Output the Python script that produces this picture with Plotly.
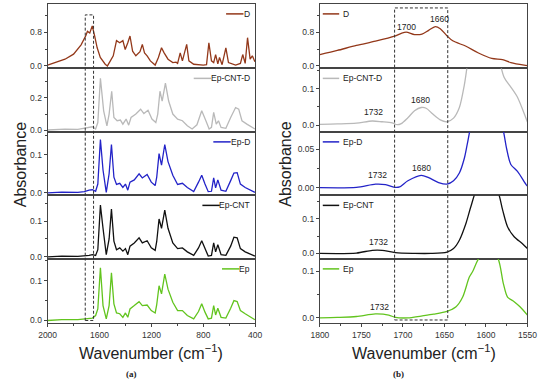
import plotly.graph_objects as go

# ---------------- data ----------------
SERIES_NAMES = ["D", "Ep-CNT-D", "Ep-D", "Ep-CNT", "Ep"]

# panel (a): 2000-400 cm-1
A_D_WN = [2000, 1940, 1866, 1800, 1742, 1705, 1693, 1675, 1656, 1638, 1618, 1594, 1556, 1539,
          1519, 1494, 1469, 1444, 1420, 1402, 1382, 1365, 1345, 1320, 1288, 1270, 1253, 1233,
          1208, 1171, 1146, 1122, 1102, 1072, 1035, 1010, 998, 978, 961, 928, 911, 874, 800,
          775, 757, 737, 720, 705, 688, 675, 655, 626, 606, 551, 514, 496, 477, 459, 439, 422, 402]
A_D_ABS = [0.02, 0.08, 0.16, 0.28, 0.5, 0.72, 0.82, 0.78, 0.95, 0.72, 0.43, 0.2, 0.04, 0.0,
           0.12, 0.24, 0.6, 0.55, 0.6, 0.39, 0.55, 0.71, 0.35, 0.24, 0.34, 0.51, 0.31, 0.24,
           0.12, 0.02, 0.2, 0.43, 0.31, 0.16, 0.08, 0.09, 0.06, 0.31, 0.12, 0.51, 0.12, 0.04, 0.02,
           0.03, 0.55, 0.12, 0.08, 0.27, 0.05, 0.2, 0.03, 0.43, 0.08, 0.02, 0.06, 0.27, 0.06, 0.67,
           0.16, 0.24, 0.1]

A_ECD_WN = [2000, 1866, 1767, 1680, 1655, 1630, 1613, 1593, 1568, 1543, 1526, 1506, 1489, 1464,
            1439, 1420, 1395, 1375, 1357, 1320, 1283, 1258, 1226, 1196, 1166, 1151, 1134, 1117,
            1092, 1067, 1035, 998, 961, 923, 886, 849, 812, 780, 755, 737, 720, 700, 683, 663,
            626, 589, 551, 527, 502, 464, 427, 402]
A_ECD_ABS = [0.002, 0.008, 0.006, 0.018, 0.022, 0.008, 0.048, 0.32, 0.12, 0.028, 0.1, 0.24,
             0.079, 0.059, 0.063, 0.038, 0.069, 0.032, 0.079, 0.1, 0.13, 0.103, 0.123, 0.069,
             0.048, 0.1, 0.24, 0.18, 0.29, 0.18, 0.1, 0.069, 0.059, 0.028, 0.008, 0.034, 0.12,
             0.059, 0.008, 0.018, 0.11, 0.038, 0.059, 0.018, 0.012, 0.079, 0.14, 0.13, 0.059,
             0.038, 0.018, 0.008]

A_WN = [2000, 1891, 1767, 1717, 1680, 1655, 1630, 1613, 1593, 1573, 1548, 1526, 1508, 1489,
        1469, 1444, 1420, 1400, 1382, 1365, 1332, 1295, 1270, 1233, 1201, 1171, 1159, 1141,
        1122, 1097, 1072, 1035, 998, 961, 923, 874, 837, 812, 787, 762, 737, 720, 705, 688,
        663, 626, 589, 564, 539, 514, 477, 427, 402]
A_ED_ABS = [0.0, 0.002, 0.001, 0.003, 0.007, 0.008, 0.004, 0.023, 0.14, 0.06, 0.001, 0.05,
            0.127, 0.041, 0.022, 0.025, 0.014, 0.023, 0.007, 0.028, 0.034, 0.05, 0.039, 0.048,
            0.028, 0.019, 0.041, 0.103, 0.073, 0.127, 0.082, 0.046, 0.022, 0.025, 0.014, 0.003,
            0.028, 0.046, 0.023, 0.003, 0.004, 0.039, 0.013, 0.034, 0.007, 0.004, 0.032, 0.052,
            0.053, 0.023, 0.014, 0.005, 0.001]
A_EC_ABS = [0.0, 0.002, 0.001, 0.002, 0.004, 0.006, 0.004, 0.02, 0.145, 0.08, 0.006, 0.05,
            0.134, 0.044, 0.02, 0.025, 0.016, 0.023, 0.006, 0.03, 0.039, 0.053, 0.039, 0.045,
            0.025, 0.018, 0.043, 0.106, 0.08, 0.131, 0.08, 0.039, 0.023, 0.025, 0.014, 0.004,
            0.025, 0.045, 0.023, 0.002, 0.004, 0.039, 0.014, 0.034, 0.006, 0.004, 0.03, 0.055,
            0.053, 0.023, 0.014, 0.005, 0.002]
A_E_ABS = [0.0, 0.002, 0.002, 0.004, 0.005, 0.006, 0.0125, 0.029, 0.133, 0.0375, 0.004, 0.0375,
           0.12, 0.042, 0.019, 0.017, 0.008, 0.019, 0.008, 0.029, 0.0375, 0.0475, 0.0375, 0.039,
           0.025, 0.019, 0.04, 0.0875, 0.067, 0.117, 0.079, 0.046, 0.025, 0.025, 0.0125, 0.004,
           0.0225, 0.042, 0.021, 0.004, 0.006, 0.0375, 0.014, 0.031, 0.008, 0.006, 0.031, 0.05,
           0.0475, 0.025, 0.017, 0.008, 0.002]

# panel (b): 1800-1550 cm-1
B_D_WN = [1800, 1779, 1756, 1733, 1710, 1702, 1696, 1686, 1677, 1669, 1661, 1655, 1647, 1640,
          1624, 1609, 1593, 1580, 1570, 1554, 1550]
B_D_ABS = [0.27, 0.37, 0.49, 0.59, 0.71, 0.78, 0.81, 0.75, 0.76, 0.85, 0.94, 0.89, 0.72, 0.6,
           0.47, 0.31, 0.18, 0.15, 0.08, 0.02, 0.01]
B_ECD_WN = [1800, 1779, 1756, 1737, 1725, 1713, 1707, 1702, 1694, 1686, 1678, 1672, 1664, 1655,
            1647, 1639, 1632, 1626, 1620, 1610, 1598, 1586, 1578, 1570, 1562, 1552, 1550]
B_ECD_ABS = [0.002, 0.003, 0.005, 0.011, 0.009, 0.006, 0.001, 0.004, 0.02, 0.039, 0.048, 0.046,
             0.03, 0.014, 0.009, 0.019, 0.048, 0.11, 0.2, 0.3, 0.32, 0.2, 0.13, 0.104, 0.076,
             0.02, 0.008]
B_ED_WN = [1800, 1756, 1733, 1721, 1709, 1704, 1694, 1678, 1669, 1657, 1647, 1639, 1632, 1626,
           1622, 1612, 1598, 1584, 1578, 1575, 1570, 1562, 1552, 1550]
B_ED_ABS = [0.0, 0.0004, 0.0046, 0.004, 0.0004, 0.001, 0.009, 0.016, 0.013, 0.0067, 0.0046,
            0.009, 0.019, 0.038, 0.059, 0.11, 0.14, 0.1, 0.068, 0.05, 0.03, 0.021, 0.0046, 0.002]
B_EC_WN = [1800, 1756, 1737, 1725, 1709, 1686, 1666, 1647, 1639, 1632, 1624, 1618, 1610, 1598,
           1586, 1580, 1574, 1566, 1556, 1550]
B_EC_ABS = [0.0, 0.001, 0.009, 0.009, 0.002, 0.0, 0.0, 0.004, 0.014, 0.038, 0.087, 0.136, 0.19,
            0.21, 0.18, 0.126, 0.077, 0.048, 0.028, 0.014]
B_E_WN = [1800, 1779, 1756, 1733, 1717, 1709, 1694, 1678, 1663, 1647, 1636, 1628, 1620, 1616,
          1608, 1597, 1586, 1579, 1574, 1566, 1559, 1550]
B_E_ABS = [0.0, 0.001, 0.003, 0.0085, 0.006, 0.001, 0.0, 0.004, 0.008, 0.014, 0.024, 0.045,
           0.088, 0.1, 0.13, 0.145, 0.13, 0.074, 0.045, 0.035, 0.024, 0.006]

# peak labels in panel (b)
PEAK_ROW = [0, 0, 1, 1, 2, 2, 3, 4]
PEAK_WN = [1696, 1656, 1736, 1679, 1731, 1678, 1729, 1728]
PEAK_TEXT = ["1700", "1660", "1732", "1680", "1732", "1680", "1732", "1732"]

# ticks
A_XTICKS = [2000, 1600, 1200, 800, 400]
B_XTICKS = [1800, 1750, 1700, 1650, 1600, 1550]
A_YTICKS = [[0.0, 0.8], [0.0, 0.2], [0.0, 0.1], [0.0, 0.1], [0.0, 0.1]]
B_YTICKS = [[0.0, 0.8], [0.0, 0.1], [0.0, 0.05], [0.0, 0.1], [0.0, 0.1]]
BOX_WN = [1710, 1646]

# ---------------- style ----------------
W, H = 550, 385
def fx(p):
    return p / W
def fy(p):
    return 1 - p / H

ROWS = [(4, 69), (69, 133), (133, 197), (197, 261), (261, 326)]
PANELS = [(40, 255), (322, 537)]
COLORS = ["#93381a", "#b9b9b9", "#2323c8", "#111111", "#62c41e"]
A_YR = [[-0.06, 1.47], [-0.01, 0.38], [-0.007, 0.16], [-0.006, 0.172], [-0.0075, 0.155]]
B_YR = [[-0.06, 1.48], [-0.019, 0.155], [-0.01, 0.072], [-0.016, 0.167], [-0.012, 0.127]]
FRAME = "#444444"
FONT = "Liberation Sans, Arial, sans-serif"

A_DATA = [(A_D_WN, A_D_ABS), (A_ECD_WN, A_ECD_ABS), (A_WN, A_ED_ABS), (A_WN, A_EC_ABS), (A_WN, A_E_ABS)]
B_DATA = [(B_D_WN, B_D_ABS), (B_ECD_WN, B_ECD_ABS), (B_ED_WN, B_ED_ABS), (B_EC_WN, B_EC_ABS), (B_E_WN, B_E_ABS)]

fig = go.Figure()
layout = {}
annotations = []
shapes = []

CW = {"E": .667, "p": .556, "-": .333, "C": .722, "N": .722, "T": .611, "D": .722}
def text_w(s, size):
    return sum(CW.get(c, .556) for c in s) * size

LEG_SIZE = 8.5

for pi, (data, yr, yt, xr, xt) in enumerate([
        (A_DATA, A_YR, A_YTICKS, [2000, 400], A_XTICKS),
        (B_DATA, B_YR, B_YTICKS, [1800, 1550], B_XTICKS)]):
    x0, x1 = PANELS[pi]
    for ri in range(5):
        idx = pi * 5 + ri + 1
        xa = "x" if idx == 1 else f"x{idx}"
        ya = "y" if idx == 1 else f"y{idx}"
        wn, ab = data[ri]
        fig.add_trace(go.Scatter(
            x=wn, y=ab, mode="lines", xaxis=xa, yaxis=ya, showlegend=False,
            line=dict(color=COLORS[ri], width=1.3, shape="spline" if pi == 1 else "linear",
                      smoothing=0.8),
            name=SERIES_NAMES[ri]))
        top, bot = ROWS[ri]
        last = ri == 4
        dt = yt[ri][1]
        xaxis = dict(
            domain=[fx(x0), fx(x1)], range=xr, anchor=ya,
            showline=True, mirror=True, linecolor=FRAME, linewidth=1,
            showgrid=False, zeroline=False, showticklabels=last,
        )
        if last:
            xaxis.update(tickvals=xt, ticks="outside", ticklen=3, tickcolor=FRAME,
                         tickfont=dict(family=FONT, size=8.5, color="#333"),
                         minor=dict(ticks="outside", ticklen=2, tickcolor=FRAME,
                                    dtick=(xt[0] - xt[1]) / 2, tick0=xt[0]))
        else:
            xaxis.update(ticks="")
        layout["xaxis" if idx == 1 else f"xaxis{idx}"] = xaxis
        layout["yaxis" if idx == 1 else f"yaxis{idx}"] = dict(
            domain=[fy(bot), fy(top)], range=yr[ri], anchor=xa,
            showline=True, mirror=True, linecolor=FRAME, linewidth=1,
            showgrid=False, zeroline=False,
            tickvals=yt[ri], ticks="outside", ticklen=3, tickcolor=FRAME,
            tickformat=".2f" if dt == 0.05 else ".1f",
            tickfont=dict(family=FONT, size=8.5, color="#333"),
            minor=dict(ticks="outside", ticklen=2, tickcolor=FRAME, dtick=dt / 2, tick0=0),
        )
        # legend sample + label
        ly = top + 10
        if pi == 0:
            tr = x1 - 3
            tw = text_w(SERIES_NAMES[ri], LEG_SIZE)
            tl = tr - tw
            lx0, lx1 = tl - 21, tl - 3
            annotations.append(dict(x=fx(tr), y=fy(ly), xref="paper", yref="paper",
                                    text=SERIES_NAMES[ri], showarrow=False, xanchor="right",
                                    yanchor="middle",
                                    font=dict(family=FONT, size=LEG_SIZE, color="#222")))
        else:
            lx0, lx1 = x0 + 3, x0 + 20
            annotations.append(dict(x=fx(x0 + 22), y=fy(ly), xref="paper", yref="paper",
                                    text=SERIES_NAMES[ri], showarrow=False, xanchor="left",
                                    yanchor="middle",
                                    font=dict(family=FONT, size=LEG_SIZE, color="#222")))
        shapes.append(dict(type="line", xref="paper", yref="paper",
                           x0=fx(lx0), x1=fx(lx1), y0=fy(ly), y1=fy(ly),
                           line=dict(color=COLORS[ri], width=1.5)))

# peak labels (b)
LABEL_Y = [27, 19.5, 112.5, 101, 176, 169.5, 244, 309]
for r, w, t, yp in zip(PEAK_ROW, PEAK_WN, PEAK_TEXT, LABEL_Y):
    annotations.append(dict(x=w, xref="x6", y=fy(yp), yref="paper", text=t, showarrow=False,
                            font=dict(family=FONT, size=8.5, color="#222"),
                            xanchor="center", yanchor="middle"))

# dashed boxes
shapes.append(dict(type="rect", xref="x", yref="paper", x0=BOX_WN[0], x1=BOX_WN[1],
                   y0=fy(323), y1=fy(15), line=dict(color="#333", width=1, dash="3px,2px")))
shapes.append(dict(type="rect", xref="x6", yref="paper", x0=BOX_WN[0], x1=BOX_WN[1],
                   y0=fy(322.5), y1=fy(8), line=dict(color="#333", width=1, dash="3px,2px")))

# axis titles and panel letters
for cx in [147.5, 429.5]:
    annotations.append(dict(x=fx(cx), y=fy(355), xref="paper", yref="paper",
                            text="Wavenumber (cm<sup>−1</sup>)", showarrow=False,
                            font=dict(family=FONT, size=16, color="#222"),
                            xanchor="center", yanchor="middle"))
for cx, lab in [(127, "(a)"), (403, "(b)")]:
    annotations.append(dict(x=fx(cx), y=fy(376.5), xref="paper", yref="paper",
                            text=f"<b>{lab}</b>", showarrow=False,
                            font=dict(family="Liberation Serif, Times New Roman, serif", size=9,
                                      color="#222"),
                            xanchor="center", yanchor="middle"))
for cx in [12, 287]:
    annotations.append(dict(x=fx(cx), y=fy(166), xref="paper", yref="paper",
                            text="Absorbance", showarrow=False, textangle=-90,
                            font=dict(family=FONT, size=16, color="#222"),
                            xanchor="center", yanchor="middle"))

fig.update_layout(**layout)
fig.update_layout(width=W, height=H, margin=dict(l=0, r=0, t=0, b=0),
                  paper_bgcolor="white", plot_bgcolor="white",
                  annotations=annotations, shapes=shapes, showlegend=False)

fig.write_html("out.html", config={"displayModeBar": False, "staticPlot": True},
               post_script="document.body.style.margin='0px';document.body.style.overflow='hidden';")
